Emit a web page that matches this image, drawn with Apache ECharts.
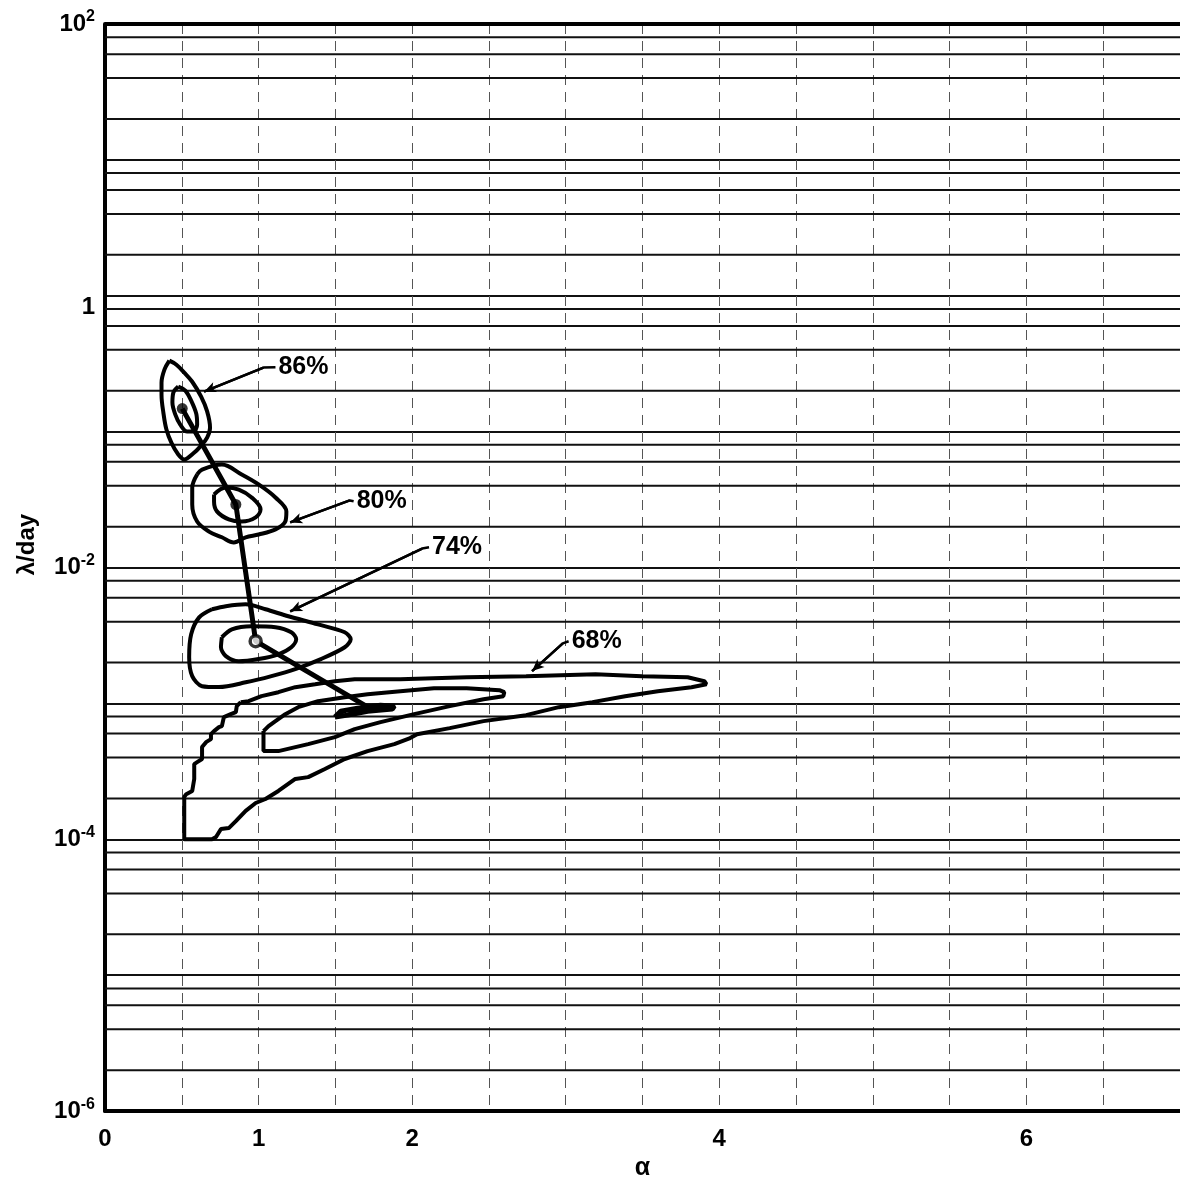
<!DOCTYPE html>
<html><head><meta charset="utf-8">
<script src="https://cdn.jsdelivr.net/npm/echarts@6/dist/echarts.min.js"></script>
<style>html,body{margin:0;padding:0;background:#fff}#c{width:1180px;height:1186px}</style>
</head><body><div id="c"></div>
<script>
// ---- tick labels / grid values ----
const xTickLabels = [0, 1, 2, 4, 6];
const yLabelExponents = [-6, -4, -2, 0, 2];
const decadeExponents = [-6, -5, -4, -3, -2, -1, 0, 1];
const minorGridFactors = [2, 4, 6, 8];
const xRange = [0, 7];

// ---- contour data: [alpha, lambda/day] ----
const c86Outer = [[0.419,0.333],[0.465,0.311],[0.516,0.272],[0.568,0.233],[0.626,0.181],[0.665,0.141],[0.684,0.107],[0.665,0.0905],[0.626,0.079],[0.574,0.069],[0.516,0.0624],[0.477,0.0679],[0.432,0.0831],[0.4,0.1036],[0.381,0.1358],[0.368,0.1873],[0.368,0.2294],[0.387,0.2859],[0.419,0.333]];
const c86Inner = [[0.477,0.2145],[0.523,0.2004],[0.561,0.1692],[0.594,0.1358],[0.6,0.1127],[0.574,0.1002],[0.535,0.1002],[0.49,0.1127],[0.458,0.1335],[0.439,0.1636],[0.445,0.1938],[0.477,0.2145]];
const c80Outer = [[0.6,0.0484],[0.632,0.0526],[0.761,0.0573],[0.89,0.0484],[1.0,0.0409],[1.11,0.0328],[1.181,0.0259],[1.174,0.0218],[1.11,0.0191],[1.0,0.0175],[0.916,0.0167],[0.839,0.0153],[0.761,0.0167],[0.677,0.0184],[0.6,0.0218],[0.568,0.0291],[0.568,0.0388],[0.6,0.0484]];
const c80Inner = [[0.71,0.0345],[0.787,0.0388],[0.871,0.0375],[0.955,0.0328],[1.013,0.0268],[0.981,0.0234],[0.89,0.0218],[0.806,0.0226],[0.729,0.0259],[0.71,0.0306],[0.71,0.0345]];
const c74Outer = [[0.697,0.00493],[0.787,0.00519],[0.916,0.00536],[1.045,0.00493],[1.194,0.00438],[1.387,0.00382],[1.561,0.00334],[1.6,0.00297],[1.561,0.00259],[1.406,0.00212],[1.239,0.00179],[1.084,0.00159],[0.916,0.00143],[0.742,0.00132],[0.632,0.00134],[0.568,0.00159],[0.548,0.00219],[0.561,0.00323],[0.613,0.0043],[0.697,0.00493]];
const c74Inner = [[0.761,0.00307],[0.826,0.00351],[0.955,0.0037],[1.11,0.00364],[1.213,0.00334],[1.245,0.00297],[1.213,0.00259],[1.129,0.0023],[1.0,0.00212],[0.871,0.00204],[0.787,0.00223],[0.755,0.00259],[0.761,0.00307]];
const c68Core = [[1.497,0.000793],[1.535,0.000877],[1.645,0.000923],[1.794,0.000971],[1.884,0.000955],[1.871,0.000908],[1.71,0.000877],[1.581,0.00082],[1.497,0.000793]];
const c68Mid = [[1.032,0.000626],[1.032,0.000446],[1.129,0.000446],[1.323,0.000502],[1.497,0.000565],[1.626,0.000647],[1.794,0.000728],[2.013,0.000834],[2.245,0.000955],[2.465,0.001075],[2.594,0.001131],[2.6,0.00121],[2.568,0.001252],[2.355,0.001295],[2.142,0.001295],[1.923,0.001231],[1.71,0.00117],[1.561,0.001112],[1.387,0.001039],[1.258,0.000939],[1.174,0.000834],[1.11,0.000741],[1.065,0.000681],[1.032,0.000626]];
const c68Outer = [[0.884,0.001022],[0.935,0.001039],[1.019,0.001131],[1.129,0.00121],[1.239,0.001317],[1.368,0.001385],[1.497,0.001458],[1.626,0.001508],[1.923,0.001508],[2.355,0.00156],[2.742,0.001586],[3.194,0.001641],[3.497,0.001586],[3.794,0.00156],[3.903,0.001458],[3.916,0.001385],
  [3.819,0.001317],[3.6,0.001231],[3.387,0.001131],[3.174,0.001022],[2.955,0.000939],[2.742,0.00082],[2.465,0.000741],[2.245,0.000658],[2.032,0.000594],[1.987,0.000556],[1.884,0.000502],[1.71,0.000446],[1.561,0.00039],[1.432,0.000329],[1.323,0.000287],[1.239,0.000278],[1.129,0.000227],[1.045,0.000198],[0.981,0.000185],[0.916,0.000162],[0.852,0.000136],[0.806,0.000121],[0.755,0.000119],[0.723,0.000104],[0.697,0.0001],[0.516,0.0001],
  [0.516,0.000205],[0.529,0.000215],[0.568,0.000227],[0.581,0.000278],[0.581,0.000358],[0.6,0.00037],[0.632,0.00039],[0.632,0.000477],[0.658,0.000519],[0.69,0.000546],[0.69,0.000594],[0.71,0.000626],[0.742,0.000669],[0.761,0.000681],[0.774,0.000793],[0.819,0.000834],[0.852,0.000863],[0.858,0.000955],[0.884,0.001022]];

// best-fit path through the contour centres
const centrePath = [[0.503,0.1478],[0.852,0.0291],[0.981,0.00287],[1.723,0.000923]];
const centreDots = [[0.503,0.1478],[0.852,0.0291]];
const centreRing = [[0.981,0.00287]];

// callouts: leader line (tip -> bend -> end) with the label after its end
const pctLabels = ['86%', '80%', '74%', '68%'];
const leaders = [
  [[0.645,0.197],[1.032,0.296],[1.11,0.298]],
  [[1.206,0.0215],[1.594,0.0312],[1.619,0.0308]],
  [[1.206,0.00476],[2.065,0.0138],[2.11,0.0141]],
  [[2.781,0.00173],[2.981,0.00277],[3.019,0.00287]]
];

const F = '"Liberation Sans", Arial, Helvetica, sans-serif';
const blk = '#000';
const minorGridValues = [];
decadeExponents.forEach(e => minorGridFactors.forEach(f => minorGridValues.push(f * Math.pow(10, e))));

function contour(data, w, smooth) {
  return { type: 'line', data: data, symbol: 'none', smooth: smooth, silent: true, z: 5,
    lineStyle: { color: blk, width: w } };
}

const series = [];
// minor horizontal grid lines (2,4,6,8 x 10^k)
minorGridValues.forEach(v => {
  series.push({ type: 'line', data: [[xRange[0], v], [xRange[1], v]], symbol: 'none', silent: true, z: 2,
    lineStyle: { color: '#111', width: 2 } });
});
// heavy top frame line at 10^2
series.push({ type: 'line', data: [[xRange[0], 100], [xRange[1], 100]], symbol: 'none', silent: true, z: 3,
  lineStyle: { color: blk, width: 4 } });

series.push(
  contour(c86Outer, 4, 0.35), contour(c86Inner, 4, 0.35),
  contour(c80Outer, 4, 0.35), contour(c80Inner, 4, 0.35),
  contour(c74Outer, 4, 0.3), contour(c74Inner, 4, 0.3),
  contour(c68Outer, 4, false), contour(c68Mid, 4, false), contour(c68Core, 5, false),
  { type: 'line', data: centrePath, symbol: 'none', silent: true, z: 6,
    lineStyle: { color: blk, width: 5 } },
  { type: 'scatter', data: centreDots, symbol: 'circle', symbolSize: 11, silent: true, z: 7,
    itemStyle: { color: blk } },
  { type: 'scatter', data: centreRing, symbol: 'circle', symbolSize: 11, silent: true, z: 7,
    itemStyle: { color: '#fff', borderColor: blk, borderWidth: 3.5 } }
);
leaders.forEach((l, i) => {
  series.push({
    type: 'line', data: l, symbol: 'none', silent: true, z: 6,
    lineStyle: { color: blk, width: 2.5 },
    endLabel: { show: true, formatter: () => pctLabels[i], distance: 3,
      fontFamily: F, fontSize: 25, fontWeight: 'bold', color: '#000' },
    markLine: {
      silent: true, animation: false, symbol: ['arrow', 'none'], symbolSize: [8, 12],
      label: { show: false }, lineStyle: { color: blk, width: 2.5, type: 'solid' },
      data: [[{ coord: l[0] }, { coord: l[1] }]]
    }
  });
});

const chart = echarts.init(document.getElementById('c'), null, { renderer: 'canvas' });
chart.setOption({
  backgroundColor: '#fff',
  animation: false,
  grid: { left: 105, right: -10, top: 24, bottom: 73 },
  xAxis: {
    type: 'value', min: xRange[0], max: xRange[1], interval: 0.5,
    name: 'α', nameLocation: 'middle', nameGap: 44,
    nameTextStyle: { fontFamily: F, fontSize: 25, fontWeight: 'bold', color: '#000' },
    axisLine: { show: true, lineStyle: { color: blk, width: 4 } },
    axisTick: { show: false },
    splitLine: { show: true, lineStyle: { color: '#555', width: 1, type: [10, 7] } },
    axisLabel: {
      showMaxLabel: false, margin: 16, fontFamily: F, fontSize: 24, fontWeight: 'bold', color: '#000',
      formatter: v => (xTickLabels.indexOf(v) >= 0 ? String(v) : '')
    }
  },
  yAxis: {
    type: 'log', logBase: 10, min: 1e-6, max: 1e2,
    name: 'λ/day', nameLocation: 'middle', nameGap: 66, nameRotate: 90,
    nameTextStyle: { fontFamily: F, fontSize: 24, fontWeight: 'bold', color: '#000', padding: [0, 0, 0, 46] },
    axisLine: { show: true, onZero: false, lineStyle: { color: blk, width: 4 } },
    axisTick: { show: false },
    splitLine: { show: true, lineStyle: { color: '#111', width: 2 } },
    axisLabel: {
      margin: 10, color: '#000',
      formatter: v => {
        const e = Math.round(Math.log10(v));
        if (yLabelExponents.indexOf(e) < 0) return '';
        if (e === 0) return '{one|1}';
        return '{b|10}{s|' + (e < 0 ? '-' + (-e) : e) + '}';
      },
      rich: {
        b: { fontFamily: F, fontSize: 24, fontWeight: 'bold', color: '#000', lineHeight: 30 },
        s: { fontFamily: F, fontSize: 16, fontWeight: 'bold', color: '#000', verticalAlign: 'top', lineHeight: 16 },
        one: { fontFamily: F, fontSize: 24, fontWeight: 'bold', color: '#000', padding: [24, 0, 0, 0] }
      }
    }
  },
  series: series
});
</script>
</body></html>
